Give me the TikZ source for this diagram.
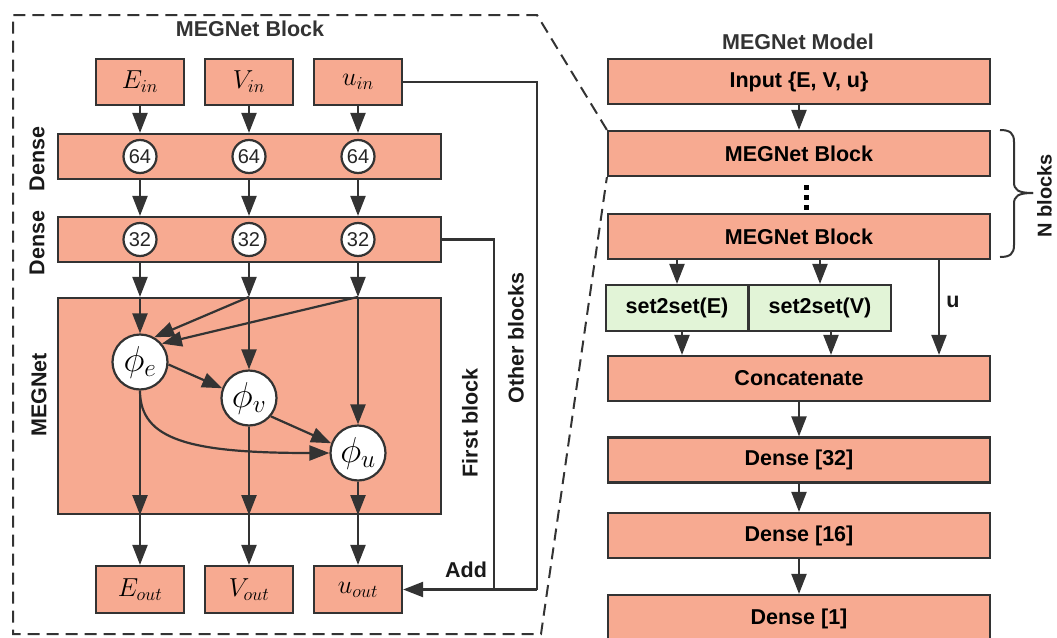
\RequirePackage{fix-cm}
\documentclass[tikz,border=0pt]{standalone}
\usepackage{fontspec}
\setmainfont{Liberation Sans}
\usetikzlibrary{arrows.meta}
\definecolor{salmon}{RGB}{247,170,145}
\definecolor{mint}{RGB}{226,244,215}
\definecolor{ink}{RGB}{51,51,51}
\begin{document}
\begin{tikzpicture}[x=1pt,y=-1pt,
  lbl/.style={font=\fontsize{21.5}{25}\selectfont\bfseries},
  blk/.style={draw=ink, line width=2.2pt, fill=salmon, inner sep=0pt, minimum height=45pt, lbl},
  io/.style={draw=ink, line width=2.2pt, fill=salmon, inner sep=0pt, minimum width=88pt, minimum height=46pt, font=\fontsize{26}{30}\selectfont},
  num/.style={circle, draw=ink, line width=2.2pt, fill=white, minimum size=33pt, inner sep=0pt, font=\fontsize{20}{24}\selectfont, text=black!85},
  phi/.style={circle, draw=ink, line width=2.2pt, fill=white, minimum size=55pt, inner sep=0pt, font=\fontsize{36}{40}\selectfont},
  s2s/.style={draw=ink, line width=2.2pt, fill=mint, minimum height=46pt, minimum width=142pt, inner sep=0pt, lbl},
  side/.style={lbl, rotate=90, text=black!90},
  wire/.style={draw=ink, line width=2.2pt, line join=miter},
  arr/.style={wire, -{Triangle[length=20pt,width=15pt]}},
  outline/.style={draw=ink, line width=2pt, dash pattern=on 12pt off 7pt}
]
\useasboundingbox (0,0) rectangle (1057,637);

% ---------------- MEGNet block (detail) ----------------
\node[lbl, text=ink] (ttlB) at (250,29) {MEGNet Block};

\node[io] (Ein) at (140,82) {$E_{in}$};
\node[io] (Vin) at (249,82) {$V_{in}$};
\node[io] (uin) at (358,82) {$u_{in}$};

\node[blk, minimum width=383pt] (D64) at (249.5,156.5) {};
\node[blk, minimum width=383pt] (D32) at (249.5,239.5) {};
\node[num] (n64a) at (140,156.5) {64};
\node[num] (n64b) at (249,156.5) {64};
\node[num] (n64c) at (358,156.5) {64};
\node[num] (n32a) at (140,239.5) {32};
\node[num] (n32b) at (249,239.5) {32};
\node[num] (n32c) at (358,239.5) {32};

\node[blk, minimum width=383pt, minimum height=216pt] (MG) at (249.5,406) {};
\node[phi] (pe) at (140,362) {$\phi_e$};
\node[phi] (pv) at (249,398) {$\phi_v$};
\node[phi] (pu) at (358,453) {$\phi_u$};

\node[io, minimum height=47pt] (Eout) at (140,589.5) {$E_{out}$};
\node[io, minimum height=47pt] (Vout) at (249,589.5) {$V_{out}$};
\node[io, minimum height=47pt] (uout) at (358,589.5) {$u_{out}$};

\node[side] (lD64) at (37,159) {Dense};
\node[side] (lD32) at (37,243) {Dense};
\node[side] (lMG) at (39,395) {MEGNet};
\node[side] (lfirst) at (470,423) {First block};
\node[side] (lother) at (516,338) {Other blocks};
\node[lbl, text=black!90] (ladd) at (466,570) {Add};

% inputs -> dense 64 -> dense 32 -> MEGNet
\foreach \n in {Ein,Vin,uin}{
  \draw[arr] (\n.south) -- (\n.south |- D64.north);
  \draw[arr] (\n.south |- D64.south) -- (\n.south |- D32.north);
  \draw[arr] (\n.south |- D32.south) -- (\n.south |- MG.north);
}
\draw[arr] (pe |- MG.north) -- (pe.north);
\draw[arr] (pv |- MG.north) -- (pv.north);
\draw[arr] (pu |- MG.north) -- (pu.north);
\draw[arr] (pv |- MG.north) -- (pe.60);
\draw[arr] (pu |- MG.north) -- (pe.40);

% update functions
\draw[arr] (pe.-5) -- (pv.160);
\draw[arr] (pv.-40) -- (pu.160);
\draw[arr] (pe.south) .. controls (140,440) and (190,453) .. (pu.west);

% outputs
\foreach \p/\o in {pe/Eout,pv/Vout,pu/uout}{
  \draw[arr] (\p.south) -- (\p |- MG.south);
  \draw[arr] (\p |- MG.south) -- (\o.north);
}

% skip connections
\coordinate (skipO) at (537,589.5);
\coordinate (skipF) at (494,589.5);
\draw[wire] (uin.east) -- (uin.east -| skipO) -- (skipO);
\draw[wire] (D32.east) -- (D32.east -| skipF) -- (skipF);
\draw[arr] (skipO) -- (uout.east);

% ---------------- MEGNet model ----------------
\node[lbl, text=ink] (ttlM) at (798,42) {MEGNet Model};
\node[blk, minimum width=382pt] (inp) at (799,81.5) {Input \{E, V, u\}};
\node[blk, minimum width=382pt] (mb1) at (799,153.5) {MEGNet Block};
\node[blk, minimum width=382pt] (mb2) at (799,236.5) {MEGNet Block};
\node[s2s] (sE) at (677,308) {set2set(E)};
\node[s2s] (sV) at (820,308) {set2set(V)};
\node[blk, minimum width=382pt] (cat) at (799,378.5) {Concatenate};
\node[blk, minimum width=382pt] (d32) at (799,460) {Dense [32]};
\node[blk, minimum width=382pt] (d16) at (799,535.5) {Dense [16]};
\node[blk, minimum width=382pt, minimum height=48pt] (d1) at (799,619) {Dense [1]};

% vertical ellipsis between the blocks
\fill[black] (803.5,185) rectangle ++(5,5);
\fill[black] (803.5,195) rectangle ++(5,5);
\fill[black] (803.5,205) rectangle ++(5,5);

\draw[arr] (inp.south) -- (mb1.north);
\draw[arr] (mb2.south -| sE) -- (sE.north);
\draw[arr] (mb2.south -| sV) -- (sV.north);
\draw[arr] ([xshift=5pt]sE.south) -- ([xshift=5pt]sE.south |- cat.north);
\draw[arr] ([xshift=11pt]sV.south) -- ([xshift=11pt]sV.south |- cat.north);
\draw[arr] ([xshift=140pt]mb2.south) -- ([xshift=140pt]mb2.south |- cat.north);
\node[lbl, text=black!90] (lu) at (953,302) {u};
\draw[arr] (cat.south) -- (d32.north);
\draw[arr] (d32.south) -- (d16.north);
\draw[arr] (d16.south) -- (d1.north);

% brace over the stacked blocks
\draw[ink, line width=2pt] (1000,130) .. controls (1010,130) and (1014,133) .. (1014,142)
  -- (1014,182) .. controls (1014,190) and (1018,193) .. (1033,193);
\draw[ink, line width=2pt] (1000,257) .. controls (1010,257) and (1014,254) .. (1014,245)
  -- (1014,204) .. controls (1014,196) and (1018,193) .. (1033,193);
\node[side, anchor=base, inner sep=0pt, font=\fontsize{20}{24}\selectfont\bfseries] (lN) at (1051.5,196) {N blocks};

% zoom outline linking the block to its detail
\draw[outline] (mb1.north west) -- (537,15) -- (13,15) -- (13,634) -- (541,634) -- (mb1.south west);
\end{tikzpicture}
\end{document}
